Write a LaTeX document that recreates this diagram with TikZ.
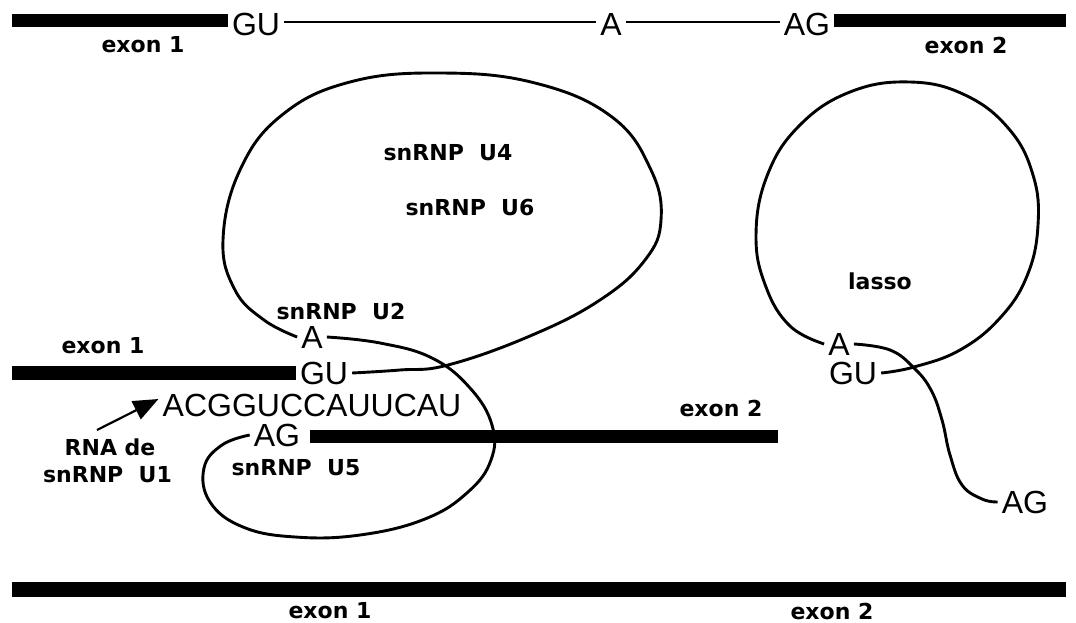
\documentclass[tikz,border=0pt]{standalone}
\usepackage{fontspec}
\setmainfont{Liberation Sans}
\newfontfamily\labfont{DejaVu Sans}
\usetikzlibrary{arrows.meta}
\begin{document}
\begin{tikzpicture}[x=1pt,y=-1pt,
  big/.style={font=\fontsize{32}{32}\selectfont, inner xsep=4pt, inner ysep=0pt},
  lab/.style={font=\labfont\bfseries\fontsize{22}{22}\selectfont, inner sep=0pt},
  bar/.style={line width=14pt},
  strand/.style={line width=2.9pt, line join=round},
  pointer/.style={line width=2.2pt, -{Triangle[length=25pt,width=20pt]}}
]
\useasboundingbox (0,0) rectangle (1076,623);

% ---------- top: pre-mRNA ----------
\node[big] (gu1) at (256,24) {GU};
\node[big] (a1) at (611,24) {A};
\node[big] (ag1) at (807,24) {AG};
\coordinate (b1s) at (12,20.5);
\coordinate (b1e) at (1066,20.5);
\draw[bar,line width=13pt] (b1s) -- (b1s -| gu1.west);
\draw[bar,line width=13pt] (ag1.east |- b1e) -- (b1e);
\draw[strand] ([yshift=2pt]gu1.east) -- ([yshift=2pt]a1.west);
\draw[strand] ([yshift=2pt]a1.east) -- ([yshift=2pt]ag1.west);
\node[lab] (ex1a) at (143,45) {exon 1};
\node[lab] (ex2a) at (966,45.5) {exon 2};

% ---------- middle: spliceosome ----------
\node[big] (a2) at (312,337) {A};
\node[big] (gu2) at (324,373) {GU};
\node[big] (acg) at (312,405.5) {ACGGUCCAUUCAU};
\node[big] (ag2) at (277,435) {AG};
\node[lab] (u2) at (341,311) {snRNP\ \ U2};
\node[lab] (u4) at (448,153) {snRNP\ \ U4};
\node[lab] (u6) at (470,208) {snRNP\ \ U6};
\node[lab] (u5) at (296,468) {snRNP\ \ U5};
\node[lab] (ex1b) at (103,346) {exon 1};
\node[lab] (ex2b) at (721,408) {exon 2};
\node[lab] (rna) at (110,447) {RNA de};
\node[lab] (u1) at (107.5,475) {snRNP\ \ U1};

\coordinate (b2s) at (12,373);
\draw[bar] (b2s) -- (gu2.west);
\coordinate (b3e) at (778,436);
\draw[bar,line width=13pt,shorten <=6pt] (ag2.east |- b3e) -- (b3e);

\coordinate (arrs) at (97,430);
\draw[pointer] (arrs) -- ([yshift=6.5pt]acg.west);

% big loop (U4/U6)
\draw[strand] plot[smooth,tension=0.7] coordinates {(gu2.east) (400,370) (448,365) (530,336) (600,300) (645,260) (661,220) (651,170) (612,117) (535,83) (440,73) (350,82) (282,115) (240,170) (223,240) (235,290) (264,320) (a2.west)};
% U5 loop
\draw[strand] plot[smooth,tension=0.7] coordinates {(a2.east) (380,343) (432,358) (470,388) (492,425) (491,460) (468,492) (425,519) (360,535) (295,537) (243,527) (210,502) (204,468) (222,445) (ag2.west)};

% ---------- right: lasso ----------
\node[big] (a3) at (839,344) {A};
\node[big] (gu3) at (853,373) {GU};
\node[big] (ag3) at (1025,502) {AG};
\node[lab] (lasso) at (880,281) {lasso};
\draw[strand] plot[smooth,tension=0.7] coordinates {(a3.west) (790,326) (766,287) (756,236) (767,176) (799,126) (850,92) (910,82) (965,95) (1009,129) (1033,175) (1038,225) (1027,276) (1000,318) (960,350) (914,367) (gu3.east)};
\draw[strand] plot[smooth,tension=0.7] coordinates {(a3.east) (890,350) (914,368) (931,390) (942,420) (950,455) (962,485) (982,499) (ag3.west)};

% ---------- bottom: spliced mRNA ----------
\coordinate (b4s) at (12,589);
\coordinate (b4e) at (1066,589);
\draw[bar,line width=15pt] (b4s) -- (b4e);
\node[lab] (ex1c) at (330,611) {exon 1};
\node[lab] (ex2c) at (832,611) {exon 2};
\end{tikzpicture}
\end{document}
